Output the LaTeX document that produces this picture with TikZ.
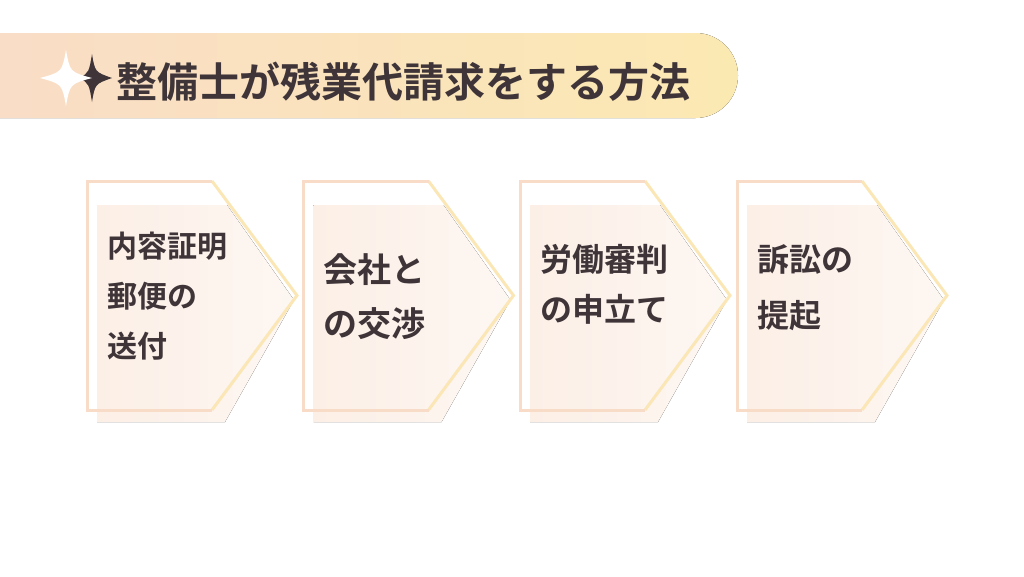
\documentclass[tikz,border=0pt]{standalone}
\usepackage{fontspec}
\newfontfamily\cjk{Noto Sans CJK JP Bold}
\usetikzlibrary{shadings}
\definecolor{peach}{HTML}{F9DCC8}
\definecolor{yel}{HTML}{FBE9B2}
\definecolor{txt}{HTML}{3F3539}
\definecolor{back}{HTML}{FCEFE6}
\begin{document}
\begin{tikzpicture}[x=1pt,y=-1pt,
  lbl/.style={anchor=north west,inner sep=0pt,font=\cjk\fontsize{30}{50}\selectfont,text=txt,align=left}]
\useasboundingbox (0,0) rectangle (1024,576);
\begin{scope}
\clip (0,0) rectangle (1024,576);
\fill[rounded corners=42.5pt,left color=peach,right color=yel] (-60,33) rectangle (738,118);
\end{scope}
\fill[txt] (92,54) .. controls (95,72) .. (112,78) .. controls (95,84) .. (92,102) .. controls (89,84) .. (80,78) .. controls (89,72) .. (92,54) -- cycle;
\fill[white] (66,50) .. controls (70,72) .. (92,78) .. controls (70,84) .. (66,106) .. controls (62,84) .. (40,78) .. controls (62,72) .. (66,50) -- cycle;
\node[anchor=west,inner sep=0pt,font=\cjk\fontsize{41}{42}\selectfont,text=txt] (title) at (116,82) {整備士が残業代請求をする方法};
\foreach \i/\x in {1/87,2/303.5,3/520,4/737}{
  \fill[left color=back,right color=white!50!back] (\x+10,205) -- (\x+140,205) -- (\x+207,300) -- (\x+138,422) -- (\x+10,422) -- cycle;
  \draw[line width=3pt,draw=yel!80!peach] (\x+125,181) -- (\x+210,295.5) -- (\x+125,410);
  \draw[line width=3pt,draw=peach] (\x+125,181) -- (\x,181) -- (\x,410) -- (\x+125,410);
  \coordinate (b\i) at (\x,181);
}
\node[lbl] (t1) at (107,232) {内容証明\\郵便の\\送付};
\node[lbl,font=\cjk\fontsize{34}{54}\selectfont] (t2) at (323,253) {会社と\\の交渉};
\node[lbl,font=\cjk\fontsize{32}{50}\selectfont] (t3) at (540,244) {労働審判\\の申立て};
\node[lbl,font=\cjk\fontsize{32}{56}\selectfont] (t4) at (757,244) {訴訟の\\提起};
\end{tikzpicture}
\end{document}
